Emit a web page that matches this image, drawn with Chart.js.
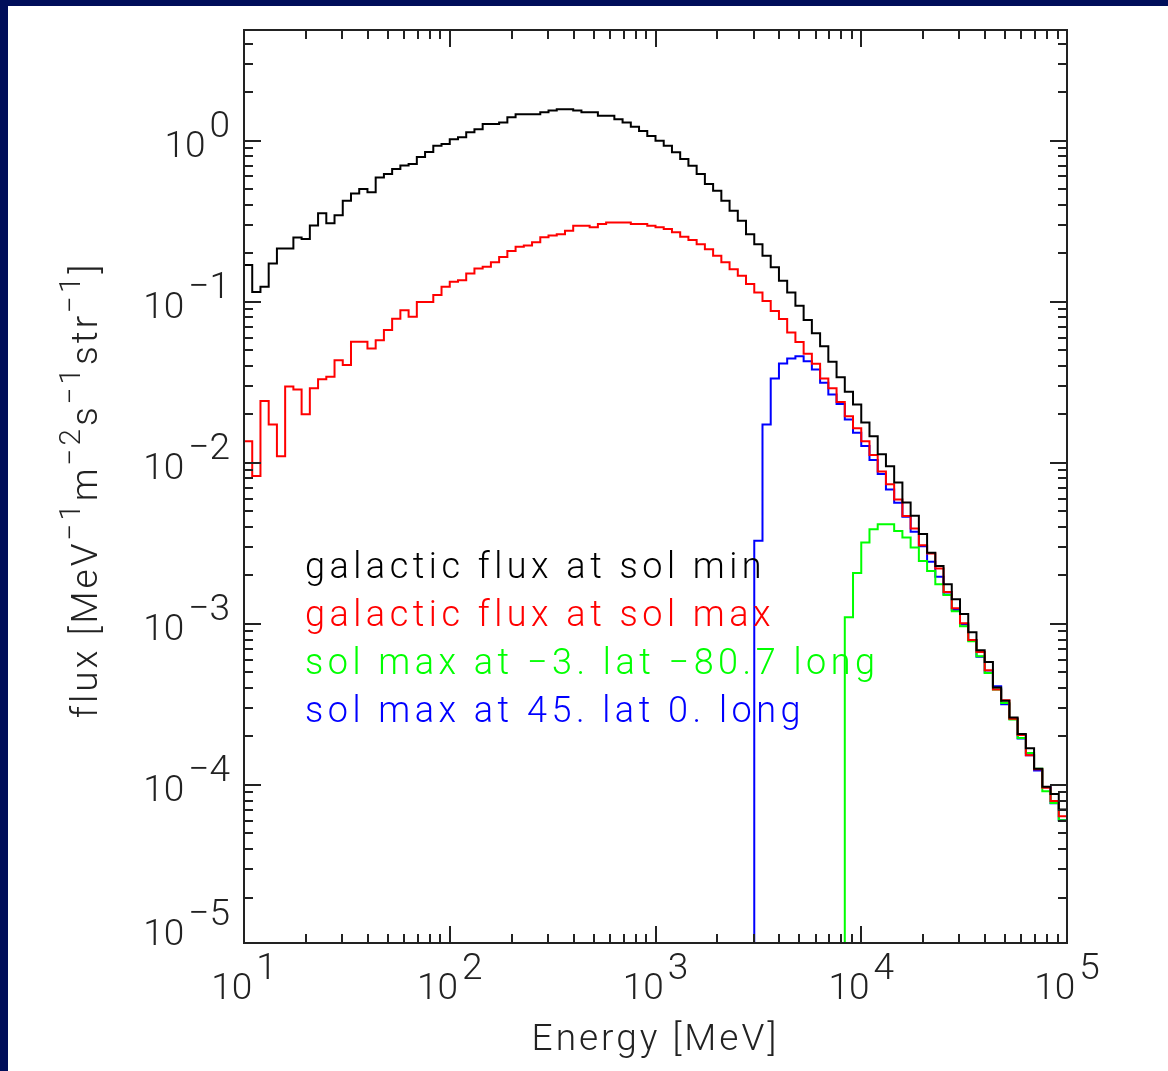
<!DOCTYPE html>
<html>
<head>
<meta charset="utf-8">
<title>Galactic flux</title>
<script src="https://cdn.jsdelivr.net/npm/chart.js@4/dist/chart.umd.min.js"></script>
<style>
    html, body { margin: 0; padding: 0; background: #000e5a; width: 1168px; height: 1071px; overflow: hidden; }
    #wrap { position: absolute; left: 8px; top: 6px; width: 1160px; height: 1065px; background: #fff; }
    canvas { display: block; }
</style>
</head>
<body>
<div id="wrap"><canvas id="fluxChart" width="1160" height="1065"></canvas></div>
<script>
/* ── Energy grid ──────────────────────────────────────────────── */
const energyRange   = [10, 1e5];        // MeV
const binsPerDecade = 25;
const fluxRange     = [1.044e-5, 4.87];

const xTickExponents = [1, 2, 3, 4, 5];
const yTickExponents = [0, -1, -2, -3, -4, -5];

/* ── Spectra (one value per energy bin) ───────────────────────── */
const fluxSolMin = [
    0.169, 0.115, 0.124, 0.173, 0.214, 0.214, 0.251, 0.245, 0.298, 0.354,
    0.307, 0.344, 0.424, 0.471, 0.501, 0.478, 0.592, 0.621, 0.667, 0.703,
    0.717, 0.792, 0.851, 0.931, 0.954, 1.02, 1.05, 1.13, 1.18, 1.27,
    1.27, 1.30, 1.40, 1.46, 1.46, 1.46, 1.50, 1.54, 1.57, 1.57,
    1.54, 1.50, 1.50, 1.43, 1.43, 1.36, 1.30, 1.22, 1.15, 1.07,
    1.00, 0.931, 0.847, 0.770, 0.700, 0.621, 0.538, 0.489, 0.424, 0.367,
    0.318, 0.263, 0.228, 0.193, 0.164, 0.135, 0.114, 0.0944, 0.0772, 0.0637,
    0.0530, 0.0424, 0.0340, 0.0276, 0.0230, 0.0178, 0.0146, 0.0113, 0.00954, 0.00755,
    0.00568, 0.00469, 0.00361, 0.00277, 0.00229, 0.00176, 0.00142, 0.00115, 0.000888, 0.000686,
    0.000581, 0.000403, 0.000333, 0.000262, 0.000207, 0.000169, 0.000126, 0.0000975, 0.0000880, 0.0000703
];

const fluxSolMax = [
    0.0136, 0.0083, 0.0242, 0.0173, 0.0110, 0.0298, 0.0285, 0.0200, 0.0291, 0.0330,
    0.0342, 0.0434, 0.0405, 0.0565, 0.0565, 0.0513, 0.0578, 0.0667, 0.0784, 0.0885,
    0.0807, 0.0996, 0.0996, 0.110, 0.124, 0.133, 0.136, 0.150, 0.161, 0.165,
    0.176, 0.190, 0.207, 0.220, 0.224, 0.234, 0.252, 0.258, 0.263, 0.276,
    0.297, 0.297, 0.290, 0.304, 0.311, 0.311, 0.311, 0.304, 0.304, 0.297,
    0.290, 0.283, 0.270, 0.253, 0.242, 0.228, 0.212, 0.193, 0.176, 0.159,
    0.145, 0.129, 0.114, 0.101, 0.0877, 0.0781, 0.0644, 0.0563, 0.0475, 0.0412,
    0.0334, 0.0291, 0.0239, 0.0195, 0.0164, 0.0136, 0.0112, 0.00885, 0.00737, 0.00593,
    0.00467, 0.00391, 0.00308, 0.00274, 0.00221, 0.00158, 0.00125, 0.00101, 0.000795, 0.000670,
    0.000515, 0.000391, 0.000336, 0.000258, 0.000204, 0.000153, 0.000125, 0.0000960, 0.0000796, 0.0000640
];

// geomagnetic cutoff: zero flux below the first listed bin
const firstBinLatM3 = 73;
const fluxLatM3 = [
    0.00110, 0.00207, 0.00320, 0.00387, 0.00416, 0.00416, 0.00378, 0.00344, 0.00298, 0.00246,
    0.00213, 0.00176, 0.00151, 0.00120, 0.000968, 0.000780, 0.000630, 0.000496, 0.000391, 0.000323,
    0.000255, 0.000196, 0.000158, 0.000126, 0.0000914, 0.0000773, 0.0000604
];

const firstBinLat45 = 62;
const fluxLat45 = [
    0.00328, 0.0173, 0.0334, 0.0414, 0.0445, 0.0459, 0.0428, 0.0380, 0.0314, 0.0266,
    0.0232, 0.0186, 0.0154, 0.0127, 0.0104, 0.00852, 0.00683, 0.00565, 0.00462, 0.00373,
    0.00304, 0.00243, 0.00196, 0.00152, 0.00122, 0.000990, 0.000792, 0.000625, 0.000500, 0.000410,
    0.000317, 0.000258, 0.000194, 0.000153, 0.000123, 0.0000970, 0.0000770, 0.0000604
];

const seriesLabels = [
    'galactic flux at sol min',
    'galactic flux at sol max',
    'sol max at \u22123. lat \u221280.7 long',
    'sol max at 45. lat 0. long'
];
const seriesColors = ['#000000', '#ff0000', '#00ff00', '#0000ff'];

/* ── Helpers ──────────────────────────────────────────────────── */
const binEdges = Array.from({ length: 101 }, (_, i) =>
    energyRange[0] * Math.pow(10, i / binsPerDecade));

// histogram outline: each value holds from its bin's lower edge to the next
function stepPoints(values, firstBin = 0) {
    const pts = [];
    if (firstBin > 0) pts.push({ x: binEdges[firstBin], y: 1e-9 });
    values.forEach((v, i) => pts.push({ x: binEdges[firstBin + i], y: v }));
    pts.push({ x: binEdges[firstBin + values.length], y: values[values.length - 1] });
    return pts;
}

const FONT = "'Roboto', 'DejaVu Sans', sans-serif";
const INK  = '#222';

function font(size) { return '300 ' + size + 'px ' + FONT; }

// "10" followed by a raised exponent
function drawPower(ctx, exp, x, y, align) {
    const base = '10';
    const sup  = exp < 0 ? '\u2212' + (-exp) : String(exp);
    ctx.font = font(37);
    const wb = ctx.measureText(base).width;
    const ws = ctx.measureText(sup).width;
    const gap = 4;
    let left = x;
    if (align === 'center') left = x - (wb + gap + ws) / 2;
    if (align === 'right')  left = x - (wb + gap + ws);
    ctx.textAlign = 'left';
    ctx.fillText(base, left, y);
    ctx.fillText(sup, left + wb + gap, y - 20);
}

// runs of normal / superscript text, laid out left to right
function drawRuns(ctx, runs, x, y, size, spacing) {
    let cx = x;
    runs.forEach(r => {
        ctx.font = font(r.sup ? size * 0.8 : size);
        ctx.letterSpacing = spacing + 'px';
        ctx.fillText(r.t, cx, r.sup ? y - 17 : y);
        cx += ctx.measureText(r.t).width;
    });
    ctx.letterSpacing = '0px';
    return cx - x;
}

function runsWidth(ctx, runs, size, spacing) {
    let w = 0;
    runs.forEach(r => {
        ctx.font = font(r.sup ? size * 0.8 : size);
        ctx.letterSpacing = spacing + 'px';
        w += ctx.measureText(r.t).width;
    });
    ctx.letterSpacing = '0px';
    return w;
}

/* ── Axes, ticks, labels and key ──────────────────────────────── */
const framePlugin = {
    id: 'idlFrame',
    beforeDraw(chart) {
        const { ctx } = chart;
        ctx.save();
        ctx.fillStyle = '#fff';
        ctx.fillRect(0, 0, chart.width, chart.height);
        ctx.restore();
    },
    afterDraw(chart) {
        const { ctx, chartArea: a, scales: { x, y } } = chart;
        const major = 17, minor = 9;
        ctx.save();
        ctx.strokeStyle = INK;
        ctx.lineWidth = 2;
        ctx.strokeRect(a.left, a.top, a.right - a.left, a.bottom - a.top);

        ctx.beginPath();
        // energy ticks, bottom and top
        for (let d = xTickExponents[0]; d <= xTickExponents[xTickExponents.length - 1]; d++) {
            for (let m = 1; m <= 9; m++) {
                const v = m * Math.pow(10, d);
                if (v > energyRange[1] * 1.0001) break;
                const px = Math.round(x.getPixelForValue(v));
                const len = m === 1 ? major : minor;
                ctx.moveTo(px, a.bottom); ctx.lineTo(px, a.bottom - len);
                ctx.moveTo(px, a.top);    ctx.lineTo(px, a.top + len);
            }
        }
        // flux ticks, left and right
        for (let d = -6; d <= 1; d++) {
            for (let m = 1; m <= 9; m++) {
                const v = m * Math.pow(10, d);
                if (v < fluxRange[0] || v > fluxRange[1]) continue;
                const py = Math.round(y.getPixelForValue(v));
                const len = m === 1 ? major : minor;
                ctx.moveTo(a.left, py);  ctx.lineTo(a.left + len, py);
                ctx.moveTo(a.right, py); ctx.lineTo(a.right - len, py);
            }
        }
        ctx.stroke();

        ctx.fillStyle = INK;
        ctx.textBaseline = 'alphabetic';
        xTickExponents.forEach(e => {
            drawPower(ctx, e, x.getPixelForValue(Math.pow(10, e)), a.bottom + 56, 'center');
        });
        yTickExponents.forEach(e => {
            // the lowest label is kept above the energy labels
            const base = Math.min(y.getPixelForValue(Math.pow(10, e)) + 16, a.bottom + 2);
            drawPower(ctx, e, a.left - 14, base, 'right');
        });

        // axis titles
        const xTitle = [{ t: 'Energy [MeV]' }];
        const wx = runsWidth(ctx, xTitle, 37, 3);
        drawRuns(ctx, xTitle, (a.left + a.right) / 2 - wx / 2, a.bottom + 107, 37, 3);

        const yTitle = [
            { t: 'flux [MeV' }, { t: '\u22121', sup: true },
            { t: 'm' }, { t: '\u22122', sup: true },
            { t: 's' }, { t: '\u22121', sup: true },
            { t: 'str' }, { t: '\u22121', sup: true },
            { t: ']' }
        ];
        ctx.save();
        ctx.translate(89, 484);
        ctx.rotate(-Math.PI / 2);
        const wy = runsWidth(ctx, yTitle, 37, 3);
        drawRuns(ctx, yTitle, -wy / 2, 0, 37, 3);
        ctx.restore();

        // key
        seriesLabels.forEach((label, i) => {
            ctx.fillStyle = seriesColors[i];
            ctx.font = font(36);
            ctx.letterSpacing = '4.5px';
            ctx.fillText(label, 297, 572 + i * 48);
        });
        ctx.letterSpacing = '0px';
        ctx.restore();
    }
};

/* ── Chart ────────────────────────────────────────────────────── */
const lineStyle = { stepped: true, fill: false, borderWidth: 2, pointRadius: 0, tension: 0 };

new Chart(document.getElementById('fluxChart'), {
    type: 'line',
    data: {
        datasets: [
            { ...lineStyle, label: seriesLabels[0], borderColor: seriesColors[0], data: stepPoints(fluxSolMin) },
            { ...lineStyle, label: seriesLabels[1], borderColor: seriesColors[1], data: stepPoints(fluxSolMax) },
            { ...lineStyle, label: seriesLabels[2], borderColor: seriesColors[2], data: stepPoints(fluxLatM3, firstBinLatM3) },
            { ...lineStyle, label: seriesLabels[3], borderColor: seriesColors[3], data: stepPoints(fluxLat45, firstBinLat45) }
        ]
    },
    options: {
        responsive: false,
        animation: false,
        layout: { padding: { left: 236, top: 24, right: 101, bottom: 128 } },
        plugins: { legend: { display: false }, tooltip: { enabled: false } },
        scales: {
            x: { type: 'logarithmic', min: energyRange[0], max: energyRange[1], display: false },
            y: { type: 'logarithmic', min: fluxRange[0], max: fluxRange[1], display: false }
        }
    },
    plugins: [framePlugin]
});
</script>
</body>
</html>
